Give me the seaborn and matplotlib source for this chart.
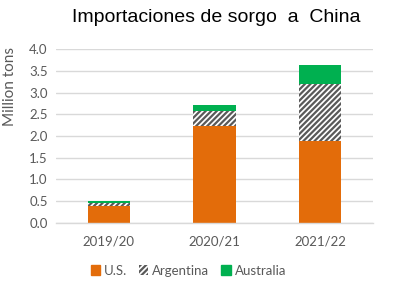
import matplotlib
matplotlib.use("Agg")
import matplotlib.pyplot as plt
import matplotlib.patches as mpatches
import seaborn as sns
import pandas as pd
import numpy as np

years = ["2019/20", "2020/21", "2021/22"]
us = [0.38, 2.23, 1.88]
argentina = [0.07, 0.35, 1.32]
australia = [0.05, 0.13, 0.44]
yticks = [0.0, 0.5, 1.0, 1.5, 2.0, 2.5, 3.0, 3.5, 4.0]

sns.set_theme(style="white")
plt.rcParams['font.family'] = ['Lato', 'DejaVu Sans']
plt.rcParams['hatch.linewidth'] = 1.6

orange = "#E36C0A"
green = "#00B050"
hatch_col = "#595959"
text_col = "#595959"

df = pd.DataFrame({"year": years, "us": us, "arg": argentina, "aus": australia})
df["c1"] = df["us"]
df["c2"] = df["us"] + df["arg"]
df["c3"] = df["c2"] + df["aus"]

fig = plt.figure(figsize=(4.01, 3.0), dpi=100)
ax = fig.add_axes([0.1397, 0.2577, 0.7903, 0.578])

sns.barplot(data=df, x="year", y="c3", color=green, width=0.4, ax=ax, linewidth=0, saturation=1)
sns.barplot(data=df, x="year", y="c2", color="white", width=0.4, ax=ax, linewidth=0,
            saturation=1, hatch="//////", edgecolor=hatch_col)
sns.barplot(data=df, x="year", y="c1", color=orange, width=0.4, ax=ax, linewidth=0, saturation=1)

ax.set_xlim(-0.5, 2.5)
ax.set_ylim(0, 4.0)
ax.set_yticks(yticks)
ax.set_yticklabels([f"{v:.1f}" for v in yticks])
ax.yaxis.grid(True, color="#D9D9D9", linewidth=1)
ax.set_axisbelow(True)
for s in ["top", "right", "left"]:
    ax.spines[s].set_visible(False)
ax.spines["bottom"].set_color("#D9D9D9")
ax.spines["bottom"].set_linewidth(1)
ax.tick_params(axis="both", length=0, labelsize=9.5, colors=text_col, pad=6)
ax.tick_params(axis="x", pad=9)
ax.set_xlabel("")
ax.set_ylabel("Million tons", fontsize=11, color=text_col, labelpad=4)
ax.yaxis.set_label_coords(-0.122, 0.785)

fig.text(0.54, 0.943, "Importaciones de sorgo  a  China", ha="center", va="center",
         fontsize=14, color="black", family=["Liberation Sans", "DejaVu Sans"])

handles = [
    mpatches.Patch(facecolor=orange, edgecolor=orange, label="U.S."),
    mpatches.Patch(facecolor="white", edgecolor=hatch_col, hatch="//////", linewidth=0, label="Argentina"),
    mpatches.Patch(facecolor=green, edgecolor=green, label="Australia"),
]
leg = fig.legend(handles=handles, loc="center", bbox_to_anchor=(0.47, 0.098), ncol=3,
                 frameon=False, fontsize=9.5, handlelength=0.7, handleheight=0.7,
                 handletextpad=0.3, columnspacing=0.9)
for t in leg.get_texts():
    t.set_color(text_col)

fig.savefig("out.png", dpi=100)
